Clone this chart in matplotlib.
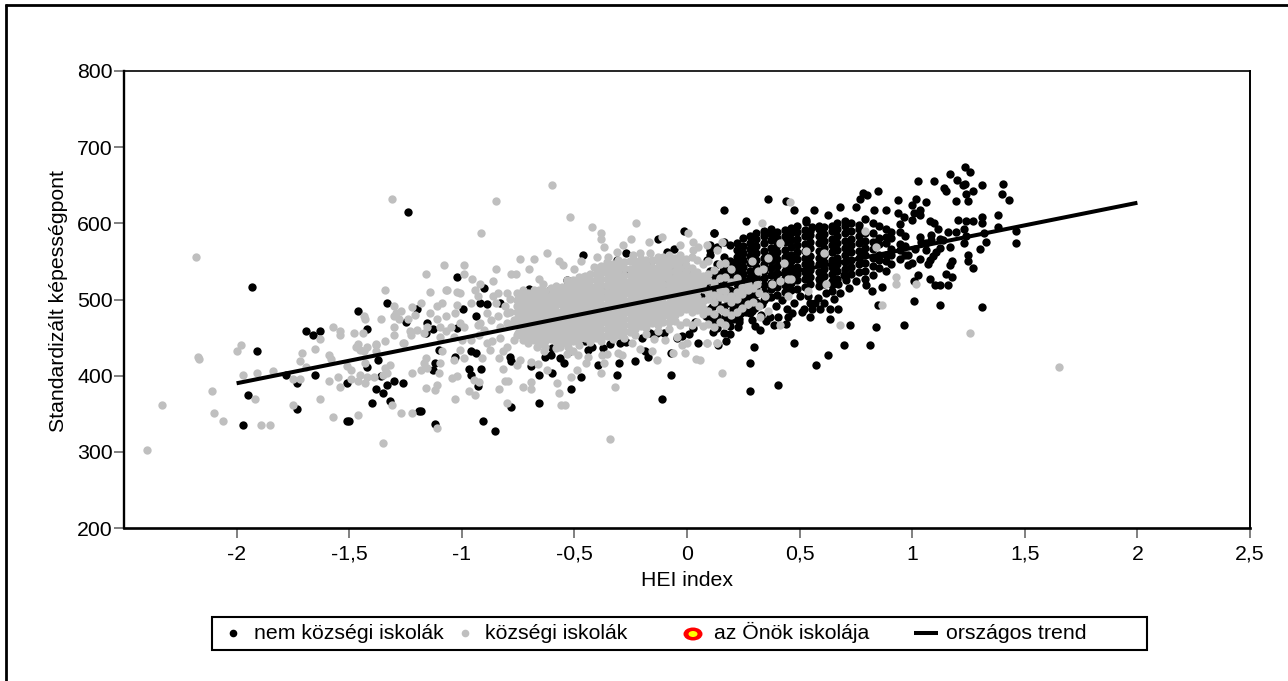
import matplotlib
matplotlib.use('Agg')
import matplotlib.pyplot as plt
from matplotlib.lines import Line2D
from matplotlib.patches import Ellipse
import numpy as np

plt.rcParams['font.family'] = ['Liberation Sans', 'DejaVu Sans']

# HEI index, standardised score
black_left = [(-1.24,615),(-1.93,516),(-1.33,495),(-1.46,485),(-1.20,487),(-1.25,471),(-1.42,461),(-1.69,458),
    (-1.63,458),(-1.66,453),(-1.91,432),(-1.37,421),(-1.42,411),(-1.78,401),(-1.65,401),(-1.36,400),(-1.73,390),
    (-1.51,390),(-1.30,393),(-1.26,390),(-1.33,388),(-1.38,383),(-1.35,377),(-1.95,375),(-1.32,367),(-1.40,364),
    (-1.73,356),(-1.19,354),(-1.97,335),(-1.51,341),(-1.50,341)]

black_mid = [(-1.02,529),(-0.46,558),(-0.27,561),(-0.012,590),(0.12,587),(-0.129,579),(-0.056,566),(-0.09,563),
    (-0.70,514),(-0.90,515),(-0.61,512),(-0.83,495),(-0.89,494),(-0.92,495),(-0.995,488),(-0.935,478),(-1.02,462),
    (-1.13,461),(-1.155,469),(-1.16,456),(-1.10,434),(-1.03,425),(-0.96,433),(-0.935,430),(-0.785,425),(-0.78,419),
    (-1.12,416),(-1.13,407),(-0.967,409),(-0.915,409),(-0.96,401),(-0.93,386),(-1.18,354),(-1.12,336),(-0.906,341),
    (-0.853,327),(-0.78,359),(-0.658,364),(-0.658,401),(-0.60,404),(-0.693,413),(-0.63,425),(-0.605,427),(-0.563,423),
    (-0.544,416),(-0.516,383),(-0.472,398),(-0.393,414),(-0.303,417),(-0.312,401),(-0.232,419),(-0.073,401),(-0.11,369),
    (-0.172,425),(-0.186,432),(-0.073,430),(-0.452,445),(-0.438,434),(-0.371,436),(-0.297,443),(-0.164,456),(-0.135,456),
    (-0.046,450),(0.05,443),(0.028,462),(0.117,457),(0.13,480),(0.124,497),(0.087,552),(0.102,565),(-0.016,543),
    (-0.061,537),(-0.105,521),(0.013,539),(0.087,530),(-0.312,552),(-0.278,539),(-0.164,548),(-0.364,513),(-0.534,526)]

black_right = [(1.236,674),(1.255,668),(1.166,665),(1.024,655),(1.095,655),(1.20,657),(1.233,652),(1.225,650),(1.308,650),
    (1.404,652),(1.141,647),(1.151,643),(1.237,639),(1.272,642),(1.397,639),(1.432,631),(1.193,629),(1.246,629),(0.847,642),
    (0.782,640),(0.801,637),(0.767,632),(0.936,631),(1.015,632),(1.06,628),(0.998,624),(1.033,618),(1.007,613),(1.033,611),
    (0.936,613),(0.962,608),(0.998,605),(0.883,618),(0.829,618),(0.749,621),(0.678,621),(0.565,618),(0.476,618),(0.439,629),
    (0.361,632),(0.164,618),(0.262,603),(0.627,611),(0.529,605),(0.53,602),(0.556,595),(0.12,587),(1.379,611),(1.308,608),
    (1.308,600),(1.202,605),(1.237,603),(1.272,603),(1.078,603),(1.095,600),(1.113,592),(1.379,595),(1.459,590),(1.459,574),
    (1.317,587),(1.326,576),(1.228,592),(1.193,589),(1.157,589),(1.24,584),(1.228,574),(1.166,569),(1.299,566),(1.122,579),
    (1.136,578),(1.085,585),(1.085,578),(1.033,582),(1.04,576),(1.063,574),(1.122,567),(1.107,563),(1.092,557),(1.077,552),
    (1.069,547),(1.033,553),(0.998,548),(0.98,545),(1.063,565),(1.011,566),(0.981,558),(1.246,558),(1.246,550),(1.272,542),
    (1.176,551),(1.169,545),(1.148,534),(1.176,529),(1.024,532),(1.077,527),(1.101,519),(1.122,519),(1.157,519),(1.006,524),
    (1.006,498),(1.122,493),(1.308,490),(0.962,467),(0.723,467),(0.838,464),(0.847,493),(0.696,440),(0.811,440),(0.625,427),
    (0.572,414),(0.476,443),(0.298,438),(0.281,417),(0.281,380),(0.405,388),(0.228,464),(0.174,446),(0.139,440),(0.325,460),
    (0.386,467),(0.545,477),(0.634,474),(0.449,477),(0.467,482),(0.405,477),(0.368,477),(0.279,482),(0.287,473),(0.242,482),
    (0.205,475),(0.635,488),(0.671,488),(0.59,488),(0.653,501),(0.616,509),(0.567,496),(0.538,504),(0.545,495),(0.794,519),
    (0.864,516),(0.705,526),(0.696,532),(0.671,521),(0.646,519),(0.59,523)]

# lower fringe of the black cloud
black_low = [(0.21,492),(0.245,497),(0.27,505),(0.30,489),(0.335,494),(0.36,503),(0.395,491),(0.42,499),(0.445,488),
    (0.475,496),(0.50,505),(0.52,488),(0.555,487),(0.58,502),(0.61,495),(0.645,511),(0.68,508),(0.72,515),(0.75,524),
    (0.82,511),(0.23,470),(0.30,465),(0.35,472),(0.44,468),(0.51,484),(0.12,470),(0.17,478),(0.19,455)]

# black dots that show between the gray ones
black_under = [(0.06,505),(0.085,478),(0.085,515),(0.11,473),(0.11,490),(0.11,512),(0.11,530),(0.135,495),(0.135,518),(0.16,490),
    (0.16,520),(0.16,538),(0.18,474),(0.18,495),(0.18,520),(0.205,487),(0.205,510),(0.205,530),(0.205,548),(0.23,475),(0.23,495),
    (0.23,515),(0.23,535),(0.26,484),(0.26,500),(0.26,522),(0.29,485),(0.29,505),(0.31,510),(0.33,480),(0.035,470),(0.01,455),
    (-0.02,452),(-0.1,456),(-0.2,450),(-0.27,444),(-0.34,441),(-0.42,437),(-0.52,433),(-0.6,436)]

# the solid black cloud, column by column
black_cloud = {
    0.10: [472,488,503,524,538,558,571], 0.135: [463,477,499,512,533,546,569],
    0.165: [456,473,486,508,521,543,556,576], 0.19: [465,479,500,513,536,550,571],
    0.222: [502,512,520,529,539,547,556,565,574], 0.247: [491,498,507,516,525,534,543,552,561,570,581],
    0.281: [494,503,512,520,530,538,548,557,566,574,584], 0.308: [497,507,516,525,533,543,552,561,570,579,587],
    0.342: [500,510,519,528,538,547,555,564,574,583,590], 0.372: [503,514,522,532,541,550,559,568,578,586,592],
    0.398: [506,516,526,535,544,553,562,572,581,589], 0.433: [510,519,528,538,547,556,565,575,584,591],
    0.461: [513,522,532,541,550,559,569,578,587,594], 0.488: [514,525,534,543,553,562,571,580,589,596],
    0.523: [517,527,536,546,555,564,573,583,591], 0.548: [520,530,539,548,557,567,576,585,590],
    0.584: [518,527,536,546,555,564,574,583,592,596], 0.607: [521,531,540,549,558,568,577,586,595],
    0.643: [524,534,543,552,562,571,580,590,596], 0.668: [527,537,546,555,565,574,583,593,600],
    0.702: [531,540,549,559,568,577,587,596,603], 0.728: [533,543,552,562,571,580,590,601],
    0.763: [536,546,555,564,574,583,592,598], 0.789: [527,538,548,558,567,577,587,606],
    0.824: [532,544,555,566,576,587,601], 0.851: [541,552,558,573,581,597],
    0.883: [537,551,559,574,582,593], 0.908: [546,558,566,581,589],
    0.944: [553,565,573,588,599], 0.968: [558,570,584],
}

gray_left = [(-1.31,632),(-2.18,556),(-1.34,513),(-1.30,492),(-1.27,485),(-1.22,490),(-1.29,482),(-1.30,478),(-1.28,474),
    (-1.24,475),(-1.21,480),(-1.435,478),(-1.43,475),(-1.57,464),(-1.54,458),(-1.54,453),(-1.48,456),(-1.44,456),(-1.63,448),
    (-1.36,474),(-1.30,464),(-1.30,453),(-1.23,458),(-1.225,453),(-1.20,460),(-1.98,440),(-2.00,432),(-2.17,425),(-2.165,422),
    (-1.71,430),(-1.65,435),(-1.72,419),(-1.69,412),(-1.59,427),(-1.58,422),(-1.46,442),(-1.47,437),(-1.45,434),(-1.42,437),
    (-1.435,432),(-1.38,442),(-1.34,446),(-1.38,440),(-1.38,432),(-1.26,443),(-1.255,443),(-1.97,401),(-1.91,404),(-1.84,406),
    (-1.75,396),(-1.72,396),(-1.59,393),(-1.55,398),(-1.54,385),(-1.49,396),(-1.46,393),(-1.45,401),(-1.43,390),(-1.42,398),
    (-1.39,398),(-1.43,416),(-1.51,413),(-1.49,407),(-1.35,401),(-1.33,403),(-1.34,410),(-1.32,414),(-1.22,404),(-1.18,408),
    (-2.11,380),(-1.92,370),(-2.33,362),(-2.10,351),(-2.06,341),(-1.89,335),(-1.85,335),(-1.75,362),(-1.63,369),(-1.57,346),
    (-1.46,348),(-1.31,362),(-1.27,351),(-1.22,351),(-1.35,312),(-2.40,303)]

gray_mid = [(-0.60,650),(-0.85,629),(-0.52,608),(-0.915,587),(-0.42,595),(-0.38,587),(-0.38,579),(-0.225,600),(-0.25,579),
    (-0.37,569),(-0.17,576),(0.006,587),(-0.11,582),(-0.62,561),(-0.74,553),(-0.68,553),(-0.57,550),(-0.55,545),(-1.08,545),
    (-0.99,545),(-0.85,540),(-0.70,540),(-0.50,540),(-1.16,534),(-0.99,534),(-0.78,534),(-0.76,534),(-0.955,527),(-0.92,521),
    (-0.86,524),(-0.655,527),(-0.64,521),(-1.14,510),(-1.07,513),(-1.065,512),(-1.02,510),(-1.01,508),(-0.94,512),(-0.93,504),
    (-1.18,495),(-1.14,482),(-1.11,491),(-1.09,495),(-1.03,482),(-1.02,493),(-0.96,495),(-1.07,478),(-1.11,475),(-1.095,464),
    (-1.05,464),(-1.01,469),(-0.99,464),(-0.93,467),(-0.92,469),(-0.86,504),(-0.84,508),(-0.80,508),(-0.85,495),(-0.81,491),
    (-0.80,482),(-0.84,478),(-0.89,482),(-0.87,473),(-0.90,460),(-0.83,464),(-0.80,469),(-0.77,473),(-1.155,464),(-1.17,456),
    (-1.095,451),(-1.07,458),(-1.036,451),(-1.0,447),(-0.96,447),(-0.925,453),(-0.89,443),(-0.866,445),(-0.83,449),(-0.874,434),
    (-0.837,423),(-0.80,438),(-0.815,432),(-0.77,447),(-0.75,456),(-1.007,434),(-0.99,423),(-0.91,423),(-1.036,421),(-1.088,432),
    (-1.16,423),(-1.17,416),(-1.155,410),(-1.095,416),(-1.10,403),(-1.044,397),(-1.02,399),(-0.947,394),(-0.925,392),(-0.815,409),
    (-0.807,393),(-0.797,393),(-0.835,383),(-0.73,385),(-0.693,392),(-0.693,383),(-1.16,384),(-1.12,381),(-1.11,388),(-0.968,380),
    (-0.94,375),(-1.03,369),(-0.80,364),(-1.11,331),(-0.693,418),(-0.66,415),(-0.622,407),(-0.578,391),(-0.569,377),(-0.56,362),
    (-0.542,362),(-0.516,398),(-0.49,408),(-0.448,416),(-0.438,425),(-0.384,404),(-0.367,416),(-0.321,385),(-0.34,317),(-0.74,421),
    (-0.755,414),(-0.208,435),(-0.154,432),(-0.135,421),(-0.308,430),(-0.29,427),(-0.356,429),(-0.378,427),(-0.482,427),(-0.504,432),
    (-0.534,429),(-0.563,438),(-0.634,432),(-0.667,438),(0.04,422),(-0.009,430),(-0.061,430),(-0.002,443),(-0.024,440),(0.087,443),
    (0.131,443),(-0.098,447),(-0.145,448),(-0.245,443),(-0.046,451),(-0.312,563),(-0.282,572),(-0.238,559),(-0.208,561),(-0.164,561),
    (-0.105,556),(-0.031,572),(0.028,576),(0.05,569),(0.087,572),(0.028,565),(0.131,565),(-0.40,556),(-0.35,556),(-0.415,543),
    (-0.46,530),(-0.534,526),(-0.47,550)]

gray_right = [(0.457,628),(0.333,600),(0.154,576),(0.412,574),(0.792,590),(0.838,569),(0.528,564),(0.607,561),(0.36,554),(0.287,551),
    (0.43,548),(0.316,537),(0.338,540),(0.449,527),(0.464,527),(0.412,524),(0.378,521),(0.309,521),(0.616,521),(0.538,511),(0.449,504),
    (0.927,529),(0.927,521),(1.015,521),(0.865,493),(0.36,485),(0.324,477),(0.678,467),(0.412,467),(1.255,456),(1.654,411),(0.157,403),
    (0.058,421),(0.087,443),(0.131,443)]

# the solid gray band, column by column
gray_band = {
    -0.785: [466,484,501], -0.755: [453,466,475,483,491,500,508],
    -0.73: [447,455,463,472,480,489,497,505,512], -0.705: [443,451,460,468,476,485,493,501,509],
    -0.68: [447,456,464,472,481,489,497,505,512], -0.655: [441,449,458,466,474,482,491,499,507,513],
    -0.63: [437,445,454,462,470,479,487,495,503,511], -0.605: [448,457,465,473,482,490,498,506,515],
    -0.58: [436,444,452,461,469,477,485,494,502,510,518], -0.555: [443,451,459,468,476,484,493,501,509,517],
    -0.53: [438,446,454,463,471,479,487,496,504,512,520], -0.505: [445,453,461,469,478,486,494,503,511,519,525],
    -0.48: [440,448,456,464,473,481,489,497,506,514,522,529], -0.455: [449,457,466,474,482,490,499,507,515,523,531],
    -0.43: [444,452,460,469,477,485,493,502,510,518,526,534], -0.405: [450,459,467,475,483,492,500,508,516,525,533,541],
    -0.38: [445,453,461,470,478,486,494,503,511,519,527,536,544], -0.355: [452,461,469,477,485,494,502,510,518,527,535,543,549],
    -0.33: [448,456,464,473,481,489,497,506,514,522,530,539,547], -0.305: [454,463,471,479,487,496,504,512,520,529,537,545,552],
    -0.28: [450,458,466,475,483,491,499,508,516,524,532,541,549], -0.255: [457,466,474,482,490,499,507,515,523,532,540,550],
    -0.23: [453,461,469,478,486,494,502,511,519,527,535,544,551], -0.205: [465,473,482,490,498,506,515,523,531,539,548,553],
    -0.18: [455,463,472,480,488,496,505,513,521,529,538,546,552], -0.155: [469,477,486,494,502,510,519,527,535,543,552],
    -0.13: [459,467,476,484,492,500,509,517,525,533,542,550,556], -0.105: [471,479,488,496,504,512,521,529,537,545,553],
    -0.08: [461,470,478,486,494,503,511,519,527,536,544,552,558], -0.055: [472,480,489,497,505,513,522,530,538,546,555],
    -0.03: [467,484,492,500,509,517,525,533,542,550,558], -0.005: [471,487,495,504,512,520,528,537,545,553],
    0.02: [466,483,491,499,508,516,524,532,541,556], 0.045: [470,486,494,503,511,519,527,536,552],
    0.07: [465,481,489,498,514,522,531,547], 0.095: [468,485,501,510,526,534,551],
    0.12: [464,481,497,506,522,539], 0.145: [470,487,503,512,528,546],
    0.17: [467,484,502,511,529,548], 0.195: [479,497,505,523,540],
    0.22: [483,501,510,528], 0.245: [489,507,516], 0.27: [494,512,521],
    0.295: [497,515], 0.32: [491,509], 0.345: [505],
}

trend_x = [-2, 2]
trend_y = [390, 627]

x_ticks = [-2, -1.5, -1, -0.5, 0, 0.5, 1, 1.5, 2, 2.5]
x_labels = ['-2', '-1,5', '-1', '-0,5', '0', '0,5', '1', '1,5', '2', '2,5']
y_ticks = [200, 300, 400, 500, 600, 700, 800]

W, H = 1288, 681
FS = 15.3

def expand(cols):
    return [(x, y) for x, ys in cols.items() for y in ys]

fig = plt.figure(figsize=(W/100, H/100), dpi=100)
ax = fig.add_axes([124/W, 1-528/H, (1250-124)/W, (528-71)/H])

black = np.array(black_left + black_mid + black_right + black_low + black_under + expand(black_cloud))
gray = np.array(gray_left + gray_mid + gray_right + expand(gray_band))
ax.scatter(black[:,0], black[:,1], s=36, color='black', linewidths=0, clip_on=False, zorder=2)
ax.scatter(gray[:,0], gray[:,1], s=36, color='#bfbfbf', linewidths=0, clip_on=False, zorder=3)
ax.plot(trend_x, trend_y, color='black', lw=2.9, solid_capstyle='butt', zorder=4)

ax.set_xlim(-2.5, 2.5)
ax.set_ylim(200, 800)
ax.set_xticks(x_ticks, x_labels, fontsize=FS)
ax.set_yticks(y_ticks)
ax.tick_params(axis='both', labelsize=FS, color='#808080', length=7, width=1.4)
ax.tick_params(axis='x', pad=5)
ax.tick_params(axis='y', pad=1)
ax.set_xlabel('HEI index', fontsize=FS, labelpad=5)
ax.set_ylabel('Standardizált képességpont', fontsize=FS, labelpad=6.5, y=0.497)

ax.spines['left'].set_linewidth(1.7)
ax.spines['bottom'].set_linewidth(1.9)
ax.spines['top'].set_linewidth(1.2)
ax.spines['right'].set_linewidth(1.4)

# outer border is only the top and left edge
fig.add_artist(Line2D([6/W, 6/W], [0, 1-4/H], color='black', lw=2, solid_capstyle='butt'))
fig.add_artist(Line2D([5/W, 1], [1-5/H, 1-5/H], color='black', lw=2, solid_capstyle='butt'))

# legend box drawn by hand, in figure fractions
fig.add_artist(plt.Rectangle((212/W, 1-649.5/H), (1147-212)/W, (649.5-617)/H, transform=fig.transFigure,
                             fill=False, edgecolor='black', lw=1.5))

ly = 1 - 633/H
fig.add_artist(Line2D([233/W], [ly], marker='o', ms=5.5, color='black', mew=0))
fig.add_artist(Line2D([465/W], [ly], marker='o', ms=5.5, color='#bfbfbf', mew=0))
fig.add_artist(Ellipse((693/W, 1-634/H), 19/W, 13/H, transform=fig.transFigure, fc='#ff0000', ec='none'))
fig.add_artist(Ellipse((693/W, 1-634/H), 9/W, 6/H, transform=fig.transFigure, fc='#ffff00', ec='none'))
fig.add_artist(Line2D([914/W, 938/W], [ly, ly], color='black', lw=2.9, solid_capstyle='butt'))
base = 1 - 639/H
fig.text(254/W, base, 'nem községi iskolák', fontsize=FS, va='baseline')
fig.text(485/W, base, 'községi iskolák', fontsize=FS, va='baseline')
fig.text(714/W, base, 'az Önök iskolája', fontsize=FS, va='baseline')
fig.text(946/W, base, 'országos trend', fontsize=FS, va='baseline')

fig.savefig('out.png', dpi=100)
